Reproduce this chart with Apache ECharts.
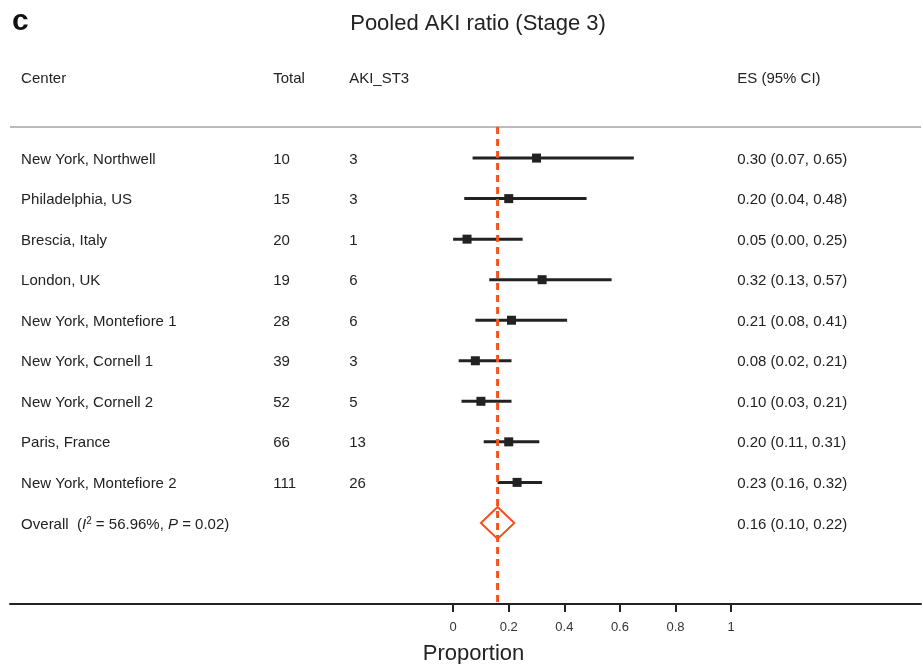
<!DOCTYPE html>
<html>
<head>
<meta charset="utf-8">
<script src="https://cdn.jsdelivr.net/npm/echarts@6/dist/echarts.min.js"></script>
<style>
  html, body { margin: 0; padding: 0; background: #fff; }
  #main { width: 923px; height: 664px; }
</style>
</head>
<body>
<div id="main"></div>
<script>
  // study rows
  var centers = ['New York, Northwell', 'Philadelphia, US', 'Brescia, Italy', 'London, UK',
    'New York, Montefiore 1', 'New York, Cornell 1', 'New York, Cornell 2', 'Paris, France',
    'New York, Montefiore 2'];
  var totals = [10, 15, 20, 19, 28, 39, 52, 66, 111];
  var events = [3, 3, 1, 6, 6, 3, 5, 13, 26];
  var es = [0.30, 0.20, 0.05, 0.32, 0.21, 0.08, 0.10, 0.20, 0.23];
  var lo = [0.07, 0.04, 0.00, 0.13, 0.08, 0.02, 0.03, 0.11, 0.16];
  var hi = [0.65, 0.48, 0.25, 0.57, 0.41, 0.21, 0.21, 0.31, 0.32];
  // pooled
  var pooled = { es: 0.16, lo: 0.10, hi: 0.22 };
  var tickValues = [0, 0.2, 0.4, 0.6, 0.8, 1];

  var ink = '#222222';
  var orange = '#f4511e';
  var font = 'Liberation Sans, Arial, sans-serif';

  // columns in axis units (0..1 axis is 453..731 px)
  var colCenter = -1.554, colTotal = -0.647, colEvents = -0.374, colES = 1.022;
  var headerRow = -2, overallRow = centers.length;

  function f2(v) { return v.toFixed(2); }

  var textRows = [];
  textRows.push([colCenter, headerRow, 'Center']);
  textRows.push([colTotal, headerRow, 'Total']);
  textRows.push([colEvents, headerRow, 'AKI_ST3']);
  textRows.push([colES, headerRow, 'ES (95% CI)']);
  for (var i = 0; i < centers.length; i++) {
    textRows.push([colCenter, i, centers[i]]);
    textRows.push([colTotal, i, String(totals[i])]);
    textRows.push([colEvents, i, String(events[i])]);
    textRows.push([colES, i, f2(es[i]) + ' (' + f2(lo[i]) + ', ' + f2(hi[i]) + ')']);
  }
  textRows.push([colES, overallRow, f2(pooled.es) + ' (' + f2(pooled.lo) + ', ' + f2(pooled.hi) + ')']);

  var ciData = [];
  for (var j = 0; j < centers.length; j++) ciData.push([es[j], j, lo[j], hi[j]]);

  var chart = echarts.init(document.getElementById('main'));
  chart.setOption({
    animation: false,
    textStyle: { fontFamily: font },
    title: [
      { text: 'Pooled AKI ratio (Stage 3)', left: 473, top: 8, textAlign: 'center',
        textStyle: { fontSize: 22, fontWeight: 'normal', color: '#222', fontFamily: font } },
      { text: 'c', left: 7, top: 2,
        textStyle: { fontSize: 30, fontWeight: 'bold', color: '#111', fontFamily: font } }
    ],
    grid: { left: 10, width: 911, top: 77, height: 527, outerBoundsMode: 'none' },
    xAxis: {
      type: 'value',
      min: -1.594, max: 1.683,
      splitLine: { show: false },
      axisLine: { onZero: false, lineStyle: { color: ink, width: 2 } },
      axisTick: { customValues: tickValues, length: 8, lineStyle: { color: ink, width: 2 } },
      axisLabel: { customValues: tickValues, color: '#333', fontSize: 13, margin: 17,
        formatter: function (v) { return String(+v.toFixed(1)); } },
      name: 'Proportion', nameLocation: 'middle', nameGap: 39,
      nameTextStyle: { fontSize: 22, color: '#222', padding: [0, 0, 0, 16] }
    },
    yAxis: {
      type: 'value', inverse: true, min: -2, max: 11,
      show: false
    },
    series: [
      {
        // header separator
        type: 'line', silent: true, symbol: 'none',
        data: [[-1.594, -0.765], [1.683, -0.765]],
        lineStyle: { color: '#bbbbbb', width: 2 }
      },
      {
        // pooled estimate reference line
        type: 'line', silent: true, symbol: 'none', z: 5,
        data: [[pooled.es, -0.765], [pooled.es, 11]],
        lineStyle: { color: orange, width: 3, type: [7, 5] }
      },
      {
        type: 'custom', z: 4,
        data: ciData,
        renderItem: function (params, api) {
          var c = api.coord([api.value(0), api.value(1)]);
          var a = api.coord([api.value(2), api.value(1)]);
          var b = api.coord([api.value(3), api.value(1)]);
          return {
            type: 'group',
            children: [
              { type: 'line', shape: { x1: a[0], y1: a[1], x2: b[0], y2: b[1] },
                style: { stroke: ink, lineWidth: 3 } },
              { type: 'rect', shape: { x: c[0] - 4.5, y: c[1] - 4.5, width: 9, height: 9 },
                style: { fill: ink } }
            ]
          };
        }
      },
      {
        type: 'custom', z: 6,
        data: [[pooled.es, overallRow, pooled.lo, pooled.hi]],
        renderItem: function (params, api) {
          var c = api.coord([api.value(0), api.value(1)]);
          var a = api.coord([api.value(2), api.value(1)]);
          var b = api.coord([api.value(3), api.value(1)]);
          var h = 16;
          return {
            type: 'polygon',
            shape: { points: [[a[0], c[1]], [c[0], c[1] - h], [b[0], c[1]], [c[0], c[1] + h]] },
            style: { fill: 'rgba(255,255,255,0)', stroke: orange, lineWidth: 2 }
          };
        }
      },
      {
        type: 'custom', z: 7,
        data: textRows,
        renderItem: function (params, api) {
          var p = api.coord([api.value(0), api.value(1)]);
          return {
            type: 'text', x: p[0], y: p[1] + 1.5,
            style: { text: textRows[params.dataIndex][2], fill: '#222', font: '15px ' + font,
              textAlign: 'left', textVerticalAlign: 'middle' }
          };
        }
      },
      {
        type: 'custom', z: 7,
        data: [[colCenter, overallRow]],
        renderItem: function (params, api) {
          var p = api.coord([api.value(0), api.value(1)]);
          return {
            type: 'text', x: p[0], y: p[1] + 1.5,
            style: {
              text: 'Overall  ({i|I}{sup|2} = 56.96%, {i|P} = 0.02)',
              fill: '#222', font: '15px ' + font,
              textAlign: 'left', textVerticalAlign: 'middle',
              rich: {
                i: { fontStyle: 'italic', fontSize: 15, fill: '#222', fontFamily: font },
                sup: { fontSize: 10, verticalAlign: 'top', padding: [0, 0, 7, 0], fill: '#222', fontFamily: font }
              }
            }
          };
        }
      }
    ]
  });
</script>
</body>
</html>
